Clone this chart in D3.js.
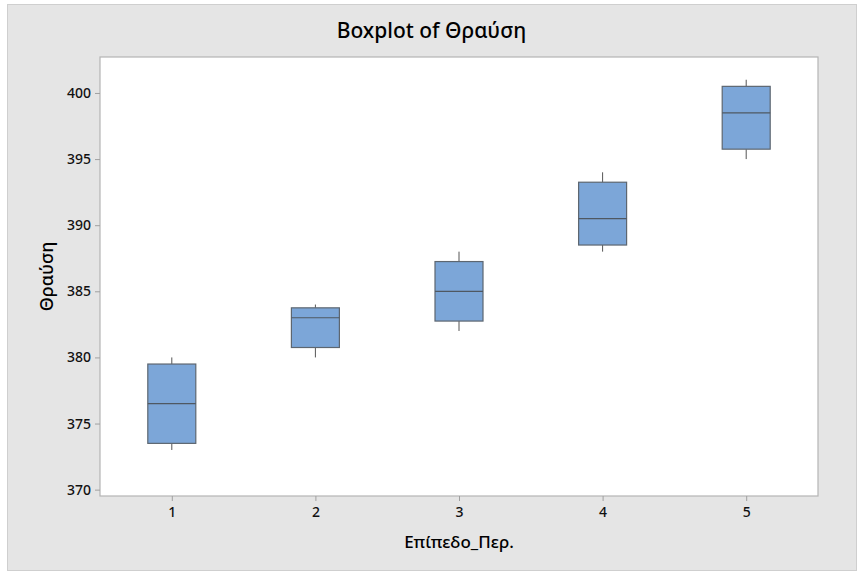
<!DOCTYPE html>
<html><head><meta charset="utf-8">
<script src="https://cdn.jsdelivr.net/npm/d3@7"></script>
<style>body{margin:0;background:#fff;} svg{display:block;}</style>
</head><body>
<svg id="c" width="859" height="572"></svg>
<script>
const categories = ["1","2","3","4","5"];
const whiskerLow  = [373, 380, 382, 388, 395];
const q1          = [373.5, 380.75, 382.75, 388.5, 395.75];
const median      = [376.5, 383, 385, 390.5, 398.5];
const q3          = [379.5, 383.75, 387.25, 393.25, 400.5];
const whiskerHigh = [380, 384, 388, 394, 401];
const yTicks = [370, 375, 380, 385, 390, 395, 400];

const svg = d3.select("#c");
const font = "'Noto Sans', 'Open Sans', sans-serif";
const frame = {x:7, y:4, w:849, h:566};
const plot = {l:100, r:818, t:57, b:496};

svg.append("rect").attr("x",frame.x+0.5).attr("y",frame.y+0.5).attr("width",frame.w).attr("height",frame.h)
  .attr("fill","#e5e5e5").attr("stroke","#cfcfcf");
svg.append("rect").attr("x",plot.l).attr("y",plot.t).attr("width",plot.r-plot.l).attr("height",plot.b-plot.t)
  .attr("fill","#fff").attr("stroke","#b4b4b4").attr("stroke-width",1.2);

const x = d3.scalePoint().domain(categories).range([plot.l, plot.r]).padding(0.5);
const y = d3.scaleLinear().domain([369.52, 402.72]).range([plot.b, plot.t]);

const yAxis = svg.append("g").attr("transform",`translate(${plot.l},0)`)
  .call(d3.axisLeft(y).tickValues(yTicks).tickSize(5).tickPadding(4).tickFormat(d3.format("d")));
const xAxis = svg.append("g").attr("transform",`translate(0,${plot.b})`)
  .call(d3.axisBottom(x).tickSize(5).tickPadding(6));
[xAxis,yAxis].forEach(a=>{
  a.select(".domain").remove();
  a.selectAll(".tick line").attr("stroke","#a0a0a0");
  a.selectAll(".tick text").attr("fill","#111").style("font-family",font).style("font-size","14px").style("font-weight","500");
});

const bw = 48;
const data = categories.map((c,i)=>({c, lo:whiskerLow[i], q1:q1[i], med:median[i], q3:q3[i], hi:whiskerHigh[i]}));
const g = svg.append("g");
data.forEach(d=>{
  const cx = x(d.c);
  g.append("line").attr("x1",cx).attr("x2",cx).attr("y1",y(d.hi)).attr("y2",y(d.q3)).attr("stroke","#555").attr("stroke-width",1);
  g.append("line").attr("x1",cx).attr("x2",cx).attr("y1",y(d.q1)).attr("y2",y(d.lo)).attr("stroke","#555").attr("stroke-width",1);
  g.append("rect").attr("x",cx-bw/2).attr("y",y(d.q3)).attr("width",bw).attr("height",y(d.q1)-y(d.q3))
    .attr("fill","#7ca6d8").attr("stroke","#5d6670").attr("stroke-width",1.2);
  g.append("line").attr("x1",cx-bw/2).attr("x2",cx+bw/2).attr("y1",y(d.med)).attr("y2",y(d.med))
    .attr("stroke","#4f5862").attr("stroke-width",1.2);
});

svg.append("text").attr("x",431.5).attr("y",38).attr("text-anchor","middle")
  .style("font-family",font).style("font-size","21px").style("font-weight","500").attr("fill","#000").text("Boxplot of Θραύση");
svg.append("text").attr("x",(plot.l+plot.r)/2).attr("y",548).attr("text-anchor","middle")
  .style("font-family",font).style("font-size","17px").style("font-weight","500").attr("fill","#000").text("Επίπεδο_Περ.");
svg.append("text").attr("transform",`translate(53,${(plot.t+plot.b)/2}) rotate(-90)`).attr("text-anchor","middle")
  .style("font-family",font).style("font-size","18px").style("font-weight","500").attr("fill","#000").text("Θραύση");
</script>
</body></html>
